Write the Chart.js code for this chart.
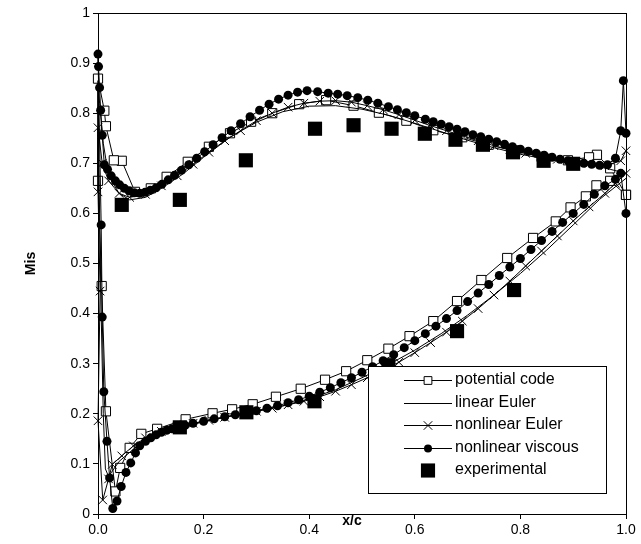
<!DOCTYPE html>
<html><head><meta charset="utf-8">
<script src="https://cdn.jsdelivr.net/npm/chart.js@4/dist/chart.umd.min.js"></script>
<style>html,body{margin:0;padding:0;background:#fff}</style>
</head><body>
<canvas id="c" width="641" height="544"></canvas>
<script>
// x ticks / y ticks
const xTicks = [0, 0.2, 0.4, 0.6, 0.8, 1.0];
const yTicks = [0, 0.1, 0.2, 0.3, 0.4, 0.5, 0.6, 0.7, 0.8, 0.9, 1];

// potential code (suction side TE->LE, then pressure side LE->TE)
const potentialX = [1.0,0.97,0.945,0.93,0.89,0.84,0.79,0.74,0.69,0.635,0.584,0.532,0.484,0.432,0.381,0.33,0.29,0.25,0.21,0.17,0.13,0.10,0.07,0.045,0.03,0.015,0.012,0.0,
  0.0,0.007,0.015,0.033,0.042,0.06,0.082,0.112,0.166,0.217,0.254,0.293,0.337,0.384,0.43,0.47,0.51,0.55,0.59,0.635,0.68,0.726,0.775,0.824,0.867,0.895,0.924,0.944,0.97,1.0];
const potentialY = [0.637,0.69,0.717,0.712,0.706,0.713,0.724,0.737,0.752,0.766,0.785,0.801,0.815,0.826,0.818,0.80,0.783,0.76,0.733,0.703,0.673,0.65,0.643,0.705,0.706,0.774,0.805,0.869,
  0.665,0.455,0.205,0.045,0.092,0.132,0.16,0.17,0.189,0.201,0.209,0.219,0.234,0.25,0.268,0.285,0.307,0.33,0.355,0.385,0.425,0.467,0.511,0.551,0.584,0.612,0.634,0.656,0.665,0.637];

// linear Euler
const linearX = [1.0,0.97,0.94,0.90,0.85,0.80,0.75,0.70,0.65,0.60,0.55,0.50,0.45,0.40,0.35,0.30,0.25,0.20,0.16,0.12,0.09,0.06,0.04,0.02,0.01,0.003,0.0,
  0.003,0.006,0.01,0.014,0.02,0.04,0.07,0.10,0.15,0.20,0.25,0.30,0.35,0.40,0.45,0.50,0.55,0.60,0.65,0.70,0.75,0.80,0.85,0.90,0.95,1.0];
const linearY = [0.68,0.688,0.695,0.70,0.708,0.718,0.731,0.746,0.763,0.78,0.796,0.808,0.815,0.814,0.803,0.782,0.752,0.712,0.678,0.65,0.632,0.627,0.64,0.675,0.74,0.82,0.865,
  0.6,0.4,0.2,0.09,0.075,0.105,0.132,0.152,0.171,0.184,0.195,0.205,0.216,0.23,0.248,0.272,0.298,0.327,0.36,0.397,0.437,0.48,0.527,0.577,0.628,0.67];

// nonlinear Euler
const eulerX = [1.0,0.99,0.96,0.93,0.90,0.87,0.84,0.81,0.78,0.75,0.72,0.69,0.66,0.63,0.60,0.57,0.54,0.51,0.48,0.45,0.42,0.39,0.36,0.33,0.30,0.27,0.24,0.21,0.18,0.15,0.12,0.09,0.06,0.04,0.02,0.008,0.0,
  0.0,0.004,0.0,0.009,0.02,0.027,0.045,0.067,0.09,0.12,0.15,0.18,0.21,0.24,0.27,0.30,0.33,0.36,0.39,0.42,0.45,0.48,0.51,0.54,0.57,0.60,0.63,0.66,0.69,0.72,0.75,0.78,0.81,0.84,0.87,0.90,0.93,0.96,0.98,1.0];
const eulerY = [0.725,0.705,0.695,0.70,0.703,0.708,0.713,0.72,0.727,0.735,0.745,0.755,0.765,0.775,0.786,0.797,0.807,0.815,0.822,0.825,0.824,0.82,0.812,0.80,0.785,0.765,0.745,0.722,0.698,0.675,0.655,0.638,0.632,0.64,0.665,0.70,0.771,
  0.643,0.445,0.186,0.028,0.07,0.099,0.116,0.136,0.152,0.165,0.174,0.181,0.187,0.193,0.199,0.205,0.211,0.218,0.225,0.234,0.245,0.258,0.272,0.287,0.303,0.322,0.342,0.363,0.385,0.41,0.437,0.465,0.495,0.525,0.555,0.585,0.613,0.64,0.66,0.68];

// nonlinear viscous
const viscousX = [1.0,0.995,0.99,0.98,0.965,0.95,0.935,0.92,0.905,0.89,0.875,0.86,0.845,0.83,0.815,0.80,0.785,0.77,0.755,0.74,0.725,0.71,0.695,0.68,0.665,0.65,0.635,0.62,0.60,0.584,0.567,0.55,0.53,0.511,0.492,0.472,0.454,0.436,0.416,0.396,0.378,0.36,0.342,0.324,0.306,0.288,0.27,0.252,0.235,0.218,0.202,0.187,0.172,0.158,0.145,0.133,0.121,0.11,0.099,0.089,0.079,0.069,0.059,0.05,0.041,0.033,0.025,0.018,0.012,0.008,0.005,0.003,0.001,0.0,
  0.006,0.008,0.011,0.017,0.022,0.028,0.036,0.044,0.053,0.062,0.071,0.079,0.09,0.10,0.11,0.12,0.13,0.14,0.15,0.165,0.18,0.20,0.22,0.24,0.26,0.28,0.30,0.32,0.34,0.36,0.38,0.40,0.42,0.44,0.46,0.48,0.50,0.52,0.54,0.56,0.58,0.60,0.62,0.64,0.66,0.68,0.70,0.72,0.74,0.76,0.78,0.80,0.82,0.84,0.86,0.88,0.90,0.92,0.94,0.96,0.98,0.99,1.0];
const viscousY = [0.76,0.865,0.765,0.71,0.697,0.696,0.698,0.70,0.702,0.705,0.708,0.712,0.716,0.72,0.724,0.728,0.733,0.738,0.743,0.748,0.753,0.757,0.763,0.768,0.773,0.778,0.783,0.788,0.795,0.801,0.807,0.813,0.82,0.826,0.831,0.835,0.838,0.84,0.843,0.845,0.842,0.836,0.828,0.818,0.806,0.793,0.779,0.765,0.751,0.737,0.723,0.71,0.697,0.686,0.676,0.667,0.658,0.651,0.646,0.642,0.64,0.641,0.645,0.65,0.657,0.665,0.675,0.688,0.697,0.756,0.806,0.851,0.893,0.918,
  0.577,0.393,0.244,0.145,0.072,0.011,0.026,0.055,0.083,0.102,0.122,0.136,0.145,0.152,0.158,0.163,0.167,0.170,0.173,0.177,0.181,0.185,0.19,0.194,0.198,0.202,0.206,0.211,0.216,0.222,0.228,0.235,0.243,0.252,0.262,0.272,0.283,0.294,0.306,0.318,0.332,0.346,0.36,0.375,0.39,0.406,0.424,0.441,0.458,0.476,0.493,0.51,0.528,0.546,0.564,0.582,0.60,0.618,0.638,0.655,0.668,0.68,0.60];

// experimental
const expX = [0.045,0.155,0.28,0.411,0.484,0.556,0.619,0.677,0.729,0.786,0.844,0.90, 0.155,0.281,0.41,0.55,0.68,0.788];
const expY = [0.617,0.627,0.706,0.769,0.776,0.769,0.759,0.747,0.737,0.722,0.705,0.699, 0.173,0.203,0.225,0.297,0.365,0.447];

const seriesNames = ['potential code','linear Euler','nonlinear Euler','nonlinear viscous','experimental'];

const pts = (xs, ys) => xs.map((x, i) => ({x: x, y: ys[i]}));
const FONT = "'Liberation Sans', Arial, sans-serif";

const datasets = [
  {label: seriesNames[0], data: pts(potentialX, potentialY), showLine: true, borderColor: '#000', borderWidth: 1,
   pointStyle: 'rect', pointRadius: 6.5, pointBackgroundColor: '#fff', pointBorderColor: '#000', pointBorderWidth: 1, order: 4},
  {label: seriesNames[1], data: pts(linearX, linearY), showLine: true, borderColor: '#000', borderWidth: 1,
   pointRadius: 0, order: 3},
  {label: seriesNames[2], data: pts(eulerX, eulerY), showLine: true, borderColor: '#000', borderWidth: 1,
   pointStyle: 'crossRot', pointRadius: 6, pointBorderColor: '#000', pointBorderWidth: 1, order: 2},
  {label: seriesNames[3], data: pts(viscousX, viscousY), showLine: true, borderColor: '#000', borderWidth: 1,
   pointStyle: 'circle', pointRadius: 4.5, pointBackgroundColor: '#000', pointBorderColor: '#000', pointBorderWidth: 0, order: 1},
  {label: seriesNames[4], data: pts(expX, expY), showLine: false, borderColor: '#000',
   pointStyle: 'rect', pointRadius: 10, pointBackgroundColor: '#000', pointBorderColor: '#000', pointBorderWidth: 0, order: 0}
];
datasets.forEach(d => { d.tension = 0; d.clip = false; d.pointHoverRadius = d.pointRadius; });

const framePlugin = {
  id: 'frame',
  afterDatasetsDraw(chart) {
    const a = chart.chartArea, ctx = chart.ctx;
    ctx.save();
    ctx.strokeStyle = '#000'; ctx.lineWidth = 1;
    ctx.strokeRect(Math.round(a.left) + 0.5, Math.round(a.top) + 0.5, Math.round(a.right - a.left), Math.round(a.bottom - a.top));
    ctx.restore();
  },
  afterDraw(chart) {
    const a = chart.chartArea, ctx = chart.ctx;
    ctx.save();
    ctx.fillStyle = '#000';
    ctx.font = 'bold 14px ' + FONT;
    ctx.textAlign = 'center'; ctx.textBaseline = 'middle';
    ctx.fillText('x/c', (a.left + a.right) / 2 - 10, a.bottom + 7);
    ctx.translate(31, (a.top + a.bottom) / 2);
    ctx.rotate(-Math.PI / 2);
    ctx.fillText('Mis', 0, 0);
    ctx.restore();

    // legend box
    const bx = 368, by = 366, bw = 238, bh = 127;
    ctx.save();
    ctx.fillStyle = '#fff';
    ctx.fillRect(bx, by, bw, bh);
    ctx.strokeStyle = '#000'; ctx.lineWidth = 1;
    ctx.strokeRect(bx + 0.5, by + 0.5, bw, bh);
    ctx.font = '16px ' + FONT;
    ctx.textBaseline = 'middle'; ctx.textAlign = 'left';
    chart.data.datasets.forEach((d, i) => {
      const y = by + 14 + i * 22.5;
      const x0 = 404, x1 = 452, xm = 428;
      if (d.showLine) {
        ctx.strokeStyle = '#000'; ctx.lineWidth = 1;
        ctx.beginPath(); ctx.moveTo(x0, Math.round(y) + 0.5); ctx.lineTo(x1, Math.round(y) + 0.5); ctx.stroke();
      }
      if (d.pointRadius > 0) {
        ctx.fillStyle = d.pointBackgroundColor || '#000';
        ctx.strokeStyle = '#000'; ctx.lineWidth = 1;
        const r = d.pointStyle === 'rect' && !d.showLine ? 10 : (d.pointStyle === 'rect' ? 5.5 : (d.pointStyle === 'crossRot' ? 6 : 4));
        Chart.helpers.drawPoint(ctx, {pointStyle: d.pointStyle, radius: r, rotation: 0, borderWidth: d.pointBorderWidth || 0}, xm, Math.round(y) + 0.5);
      }
      ctx.fillStyle = '#000';
      ctx.fillText(d.label, 455, y);
    });
    ctx.restore();
  }
};

new Chart(document.getElementById('c'), {
  type: 'scatter',
  data: {datasets},
  options: {
    responsive: false, animation: false, devicePixelRatio: 1,
    layout: {padding: {top: 13, right: 15, left: 0, bottom: 0}},
    plugins: {legend: {display: false}, tooltip: {enabled: false}},
    scales: {
      x: {
        type: 'linear', min: 0, max: 1,
        afterBuildTicks: s => { s.ticks = xTicks.map(v => ({value: v})); },
        afterFit: s => { s.height = 30; },
        ticks: {color: '#000', font: {family: FONT, size: 14}, padding: 3, maxRotation: 0, callback: v => Number(v).toFixed(1)},
        grid: {display: true, drawOnChartArea: false, drawTicks: true, tickLength: 5, color: '#000'},
        border: {display: true, color: '#000', width: 1}
      },
      y: {
        type: 'linear', min: 0, max: 1,
        afterBuildTicks: s => { s.ticks = yTicks.map(v => ({value: v})); },
        afterFit: s => { s.width = 98; },
        ticks: {color: '#000', font: {family: FONT, size: 14}, padding: 3, callback: v => String(v)},
        grid: {display: true, drawOnChartArea: false, drawTicks: true, tickLength: 5, color: '#000'},
        border: {display: true, color: '#000', width: 1}
      }
    }
  },
  plugins: [framePlugin]
});
</script>
</body></html>
